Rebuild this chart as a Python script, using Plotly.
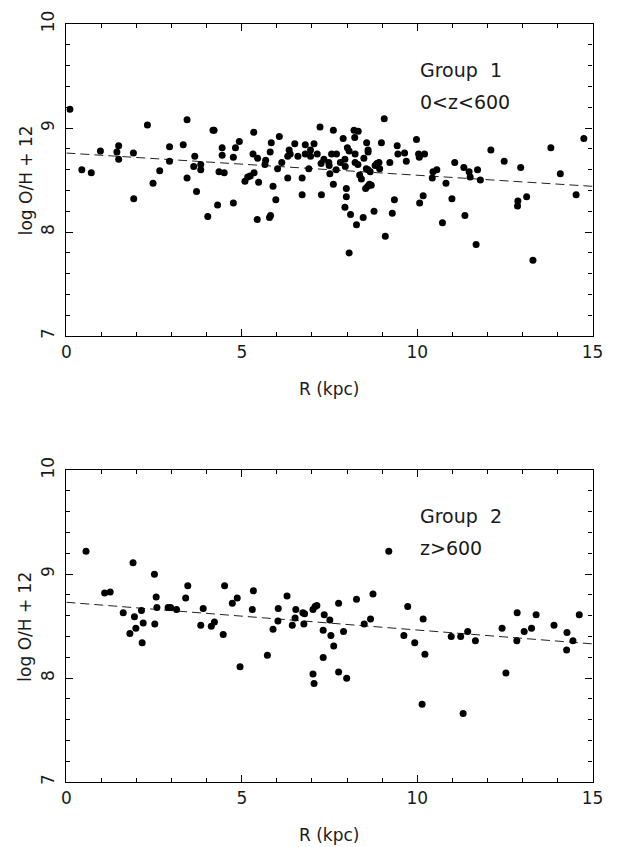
import plotly.graph_objects as go

# ---- Group 1 (0<z<600) ----
top_r = [0.10, 0.44, 0.71, 0.97, 1.49, 1.44, 1.49, 1.91, 1.92, 2.31, 2.47, 2.66, 2.94, 2.94,
         3.33, 3.44, 3.44, 3.66, 3.63, 3.83, 3.83, 3.71, 4.03, 4.18, 4.21, 4.31, 4.44, 4.44,
         4.35, 4.50, 4.76, 4.82, 4.93, 4.76, 5.09, 5.17, 5.24, 5.34, 5.32, 5.45, 5.68, 5.66,
         5.35, 5.48, 5.81, 5.84, 6.07, 6.02, 6.14, 5.89, 5.97, 5.44, 5.79, 5.82, 6.31, 6.35,
         6.31, 6.38, 6.51, 6.60, 6.72, 6.72, 6.81, 6.81, 6.96, 6.96, 7.06, 6.91, 7.15, 7.23,
         7.26, 7.27, 7.34, 7.48, 7.49, 7.56, 7.70, 7.61, 7.51, 7.61, 7.69, 7.81, 7.89, 7.94,
         7.95, 7.98, 7.98, 7.94, 8.10, 8.06, 8.01, 8.06, 8.20, 8.32, 8.22, 8.23, 8.23, 8.31,
         8.27, 8.46, 8.48, 8.56, 8.60, 8.60, 8.36, 8.41, 8.55, 8.60, 8.66, 8.53, 8.59, 8.64,
         8.69, 8.77, 8.80, 8.85, 8.91, 8.93, 8.98, 9.06, 9.22, 9.29, 9.35, 9.09, 9.43, 9.45,
         9.64, 9.69, 9.98, 10.04, 10.06, 10.21, 10.45, 10.56, 10.43, 10.17, 10.07, 10.82,
         11.07, 10.99, 10.72, 11.33, 11.48, 11.51, 11.72, 11.80, 11.36, 11.68, 12.10, 12.48,
         12.95, 12.87, 12.86, 13.12, 13.30, 13.81, 14.08, 14.53, 14.75]
top_oh = [9.18, 8.60, 8.57, 8.78, 8.83, 8.77, 8.70, 8.76, 8.32, 9.03, 8.47, 8.59, 8.82, 8.68,
          8.84, 9.08, 8.52, 8.73, 8.63, 8.65, 8.60, 8.39, 8.15, 8.98, 8.98, 8.26, 8.81, 8.74,
          8.58, 8.57, 8.72, 8.81, 8.87, 8.28, 8.49, 8.53, 8.54, 8.96, 8.75, 8.71, 8.69, 8.65,
          8.57, 8.48, 8.77, 8.86, 8.92, 8.61, 8.67, 8.44, 8.31, 8.12, 8.14, 8.16, 8.52, 8.79,
          8.73, 8.75, 8.85, 8.73, 8.52, 8.36, 8.84, 8.75, 8.79, 8.73, 8.85, 8.61, 8.75, 9.01,
          8.66, 8.36, 8.70, 8.67, 8.64, 8.75, 8.75, 8.98, 8.56, 8.46, 8.60, 8.67, 8.90, 8.70,
          8.63, 8.42, 8.34, 8.24, 8.17, 7.80, 8.81, 8.78, 8.98, 8.97, 8.91, 8.75, 8.67, 8.65,
          8.07, 8.14, 8.71, 8.86, 8.79, 8.77, 8.55, 8.51, 8.61, 8.60, 8.58, 8.42, 8.44, 8.46,
          8.45, 8.20, 8.64, 8.66, 8.67, 8.61, 8.86, 9.09, 8.67, 8.18, 8.31, 7.96, 8.83, 8.75,
          8.76, 8.68, 8.89, 8.75, 8.72, 8.75, 8.58, 8.60, 8.52, 8.35, 8.28, 8.47,
          8.67, 8.32, 8.09, 8.62, 8.58, 8.53, 8.60, 8.50, 8.16, 7.88, 8.79, 8.68,
          8.62, 8.30, 8.25, 8.34, 7.73, 8.81, 8.56, 8.36, 8.90]
top_fit_r = [0, 15]
top_fit_oh = [8.76, 8.44]

# ---- Group 2 (z>600) ----
bot_r = [0.56, 1.09, 1.25, 1.62, 1.90, 1.94, 2.14, 1.98, 1.81, 2.19, 2.16, 2.51, 2.56, 2.58,
         2.52, 2.90, 2.97, 3.14, 3.40, 3.46, 3.90, 3.83, 4.13, 4.22, 4.47, 4.51, 4.73, 4.87,
         4.95, 5.33, 5.30, 5.89, 6.03, 6.04, 6.29, 5.73, 6.44, 6.52, 6.54, 6.74, 6.79, 6.77,
         7.03, 7.09, 7.14, 7.35, 7.51, 7.32, 7.54, 7.76, 7.90, 7.62, 7.32, 7.03, 7.06, 7.76,
         7.99, 8.27, 8.49, 8.67, 8.74, 9.19, 9.73, 9.62, 9.93, 10.17, 10.22, 10.14, 10.97,
         11.24, 11.44, 11.66, 11.31, 12.42, 12.53, 12.85, 12.84, 13.05, 13.26, 13.39, 13.90,
         14.27, 14.44, 14.26, 14.62]
bot_oh = [9.22, 8.82, 8.83, 8.63, 9.11, 8.59, 8.65, 8.48, 8.43, 8.53, 8.34, 9.00, 8.78, 8.68,
          8.52, 8.68, 8.68, 8.66, 8.77, 8.89, 8.67, 8.51, 8.50, 8.54, 8.42, 8.89, 8.72, 8.77,
          8.11, 8.84, 8.66, 8.47, 8.55, 8.67, 8.79, 8.22, 8.51, 8.58, 8.66, 8.63, 8.62, 8.52,
          8.66, 8.69, 8.70, 8.61, 8.56, 8.46, 8.41, 8.72, 8.45, 8.31, 8.20, 8.04, 7.95, 8.06,
          8.00, 8.76, 8.52, 8.57, 8.81, 9.22, 8.69, 8.41, 8.34, 8.57, 8.23, 7.75, 8.40,
          8.40, 8.45, 8.36, 7.66, 8.48, 8.05, 8.63, 8.36, 8.45, 8.48, 8.61, 8.51,
          8.44, 8.36, 8.27, 8.61]
bot_fit_r = [0, 15]
bot_fit_oh = [8.73, 8.33]

W, H = 626, 847
FONT = "DejaVu Sans"
TXT = "#1a1a1a"


def px_x(p):
    return p / W


def px_y(p):
    return (H - p) / H


fig = go.Figure()
for xs, ys, fx, fy, xa, ya in [
    (top_r, top_oh, top_fit_r, top_fit_oh, "x", "y"),
    (bot_r, bot_oh, bot_fit_r, bot_fit_oh, "x2", "y2"),
]:
    fig.add_trace(go.Scatter(x=fx, y=fy, mode="lines", xaxis=xa, yaxis=ya,
                             line=dict(color="#222", width=1, dash="9px,5px"),
                             showlegend=False, hoverinfo="skip"))
    fig.add_trace(go.Scatter(x=xs, y=ys, mode="markers", xaxis=xa, yaxis=ya,
                             marker=dict(color="black", size=7, line=dict(width=0)),
                             showlegend=False))

common = dict(showgrid=False, zeroline=False, showline=True, linecolor="black",
              linewidth=1.2, mirror="allticks", ticks="inside", tickwidth=1,
              tickcolor="black", ticklen=7,
              tickfont=dict(family=FONT, size=17, color=TXT))

xdom = [px_x(63), px_x(603)]


def xaxis(anchor):
    return dict(common, domain=xdom, range=[0, 15], anchor=anchor,
                tickmode="linear", tick0=0, dtick=5,
                minor=dict(ticks="inside", ticklen=4, dtick=1, tick0=0,
                           tickcolor="black", tickwidth=1, showgrid=False))


def yaxis(anchor, dom):
    return dict(common, domain=dom, range=[7, 10], anchor=anchor,
                tickmode="linear", tick0=7, dtick=1,
                tickangle=-90, ticklabelstandoff=4,
                minor=dict(ticks="inside", ticklen=4, dtick=0.2, tick0=7,
                           tickcolor="black", tickwidth=1, showgrid=False))


fig.update_layout(
    width=W, height=H,
    margin=dict(l=0, r=0, t=0, b=0),
    paper_bgcolor="white", plot_bgcolor="white",
    xaxis=xaxis("y"),
    yaxis=yaxis("x", [px_y(329.3), px_y(11.3)]),
    xaxis2=xaxis("y2"),
    yaxis2=yaxis("x2", [px_y(784), px_y(466)]),
    font=dict(family=FONT, color=TXT),
)

ann = []
labels = [("x", "y", "Group  1", "0<z<600"), ("x2", "y2", "Group  2", "z>600")]
for xr, yr, l1, l2 in labels:
    ann.append(dict(x=10.03, y=9.56, xref=xr, yref=yr, text=l1, showarrow=False,
                    xanchor="left", yanchor="middle", font=dict(size=19, family=FONT, color=TXT)))
    ann.append(dict(x=10.03, y=9.25, xref=xr, yref=yr, text=l2, showarrow=False,
                    xanchor="left", yanchor="middle", font=dict(size=19, family=FONT, color=TXT)))

for cy in (383, 838):
    ann.append(dict(x=px_x(333), y=px_y(cy), xref="paper", yref="paper", text="R (kpc)",
                    showarrow=False, xanchor="center", yanchor="middle",
                    font=dict(size=17, family=FONT, color=TXT)))
for cy in (170, 625):
    ann.append(dict(x=px_x(21), y=px_y(cy), xref="paper", yref="paper", text="log O/H + 12",
                    textangle=-90, showarrow=False, xanchor="center", yanchor="middle",
                    font=dict(size=17, family=FONT, color=TXT)))
fig.update_layout(annotations=ann)

fig.write_html("out.html")
